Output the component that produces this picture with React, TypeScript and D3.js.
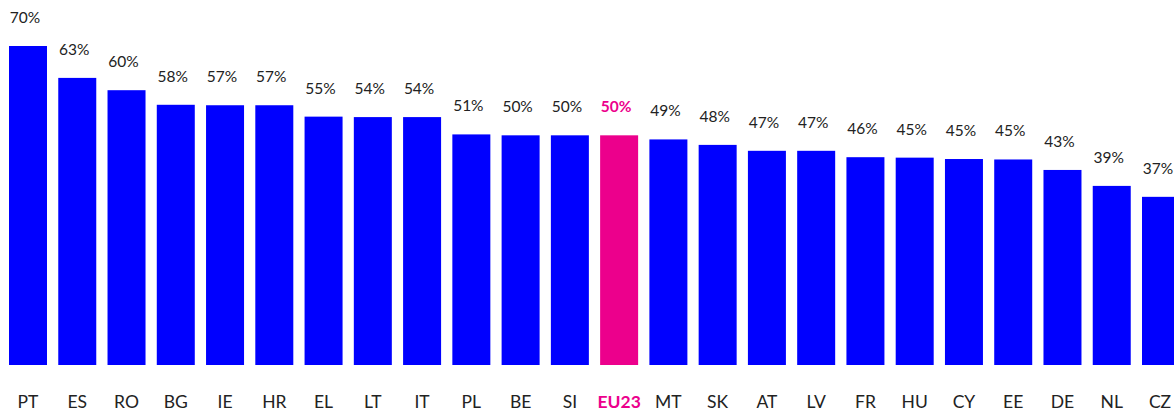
import React from "react";
import * as d3 from "d3";

const categories = ["PT","ES","RO","BG","IE","HR","EL","LT","IT","PL","BE","SI","EU23","MT","SK","AT","LV","FR","HU","CY","EE","DE","NL","CZ"];
const values = [70, 63, 60.3, 57.1, 57.0, 57.0, 54.5, 54.4, 54.4, 50.6, 50.4, 50.4, 50.4, 49.5, 48.3, 47.0, 47.0, 45.6, 45.5, 45.2, 45.1, 42.8, 39.3, 36.9];
const valueLabels = ["70%","63%","60%","58%","57%","57%","55%","54%","54%","51%","50%","50%","50%","49%","48%","47%","47%","46%","45%","45%","45%","43%","39%","37%"];
const highlight = "EU23";

const W = 1174;
const H = 412;

export default function App() {
  const x = d3.scaleBand<string>().domain(categories).range([9, 1180]).paddingInner(0.2286).paddingOuter(0);
  const y = d3.scaleLinear().domain([0, 70]).range([365, 46]);
  const font = "Lato, 'Open Sans', sans-serif";
  return (
    <svg width={W} height={H} style={{ position: "absolute", left: 0, top: 0 }} fontFamily={font}>
      {categories.map((c, i) => {
        const hl = c === highlight;
        const bx = x(c)!;
        const bw = x.bandwidth();
        const top = y(values[i]);
        const cx = bx + bw / 2;
        return (
          <g key={c}>
            <rect x={bx} y={top} width={bw} height={y(0) - top} fill={hl ? "#ec008c" : "#0000ff"} />
            <text x={cx - 3} y={top - 23} textAnchor="middle" fontSize={15.5}
              fill={hl ? "#ec008c" : "#222"} fontWeight={hl ? 700 : 400}>{valueLabels[i]}</text>
            <text x={Math.min(cx, W - 14)} y={408} textAnchor="middle" fontSize={17.5}
              fill={hl ? "#ec008c" : "#222"} fontWeight={hl ? 700 : 400}>{c}</text>
          </g>
        );
      })}
    </svg>
  );
}
